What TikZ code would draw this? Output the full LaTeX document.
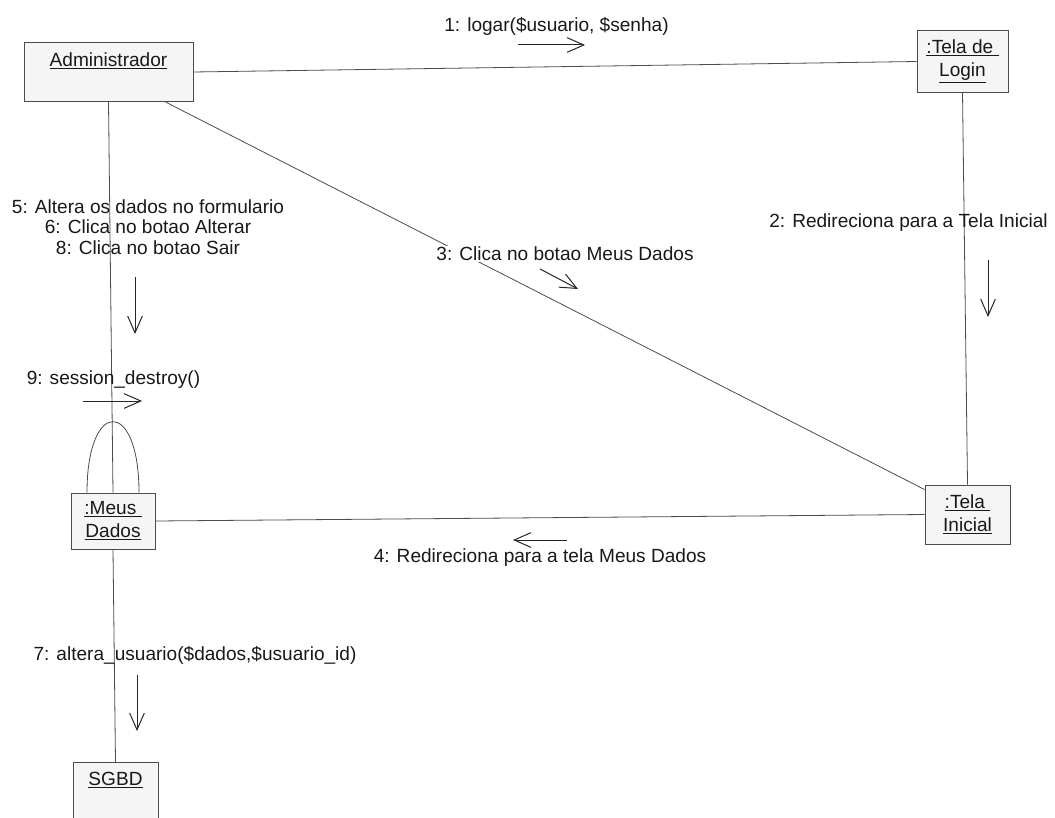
\documentclass[tikz,border=0pt]{standalone}
\usepackage{fontspec}
\setmainfont{Liberation Sans}
\usetikzlibrary{arrows.meta}
\begin{document}
\begin{tikzpicture}[x=0.75pt,y=-0.75pt,
  conn/.style={draw=black!70, line width=0.6pt},
  msg/.style={draw=black!85, line width=0.75pt, -{Straight Barb[length=12.5pt,width=11pt]}},
  obj/.style={draw=black!70, line width=0.75pt, fill=black!4, font=\fontsize{14.3}{17.25}\selectfont, text=black!90, align=center, inner sep=0pt},
  lbl/.style={font=\fontsize{14.3}{15.4}\selectfont, text=black!90, inner sep=0pt, align=center}]
\useasboundingbox (0,0) rectangle (1055,817);
\clip (0,0) rectangle (1055,817);
\fill[white] (0,0) rectangle (1055,817);

% objects
\node[obj, anchor=north, minimum width=126.75pt, text height=18pt, text depth=26.25pt] (adm) at (108.5,42) {\underline{Administrador}};
\node[obj, minimum width=68.25pt, minimum height=45.75pt] (login) at (962.5,61.5) {\underline{:Tela de\ }\\\underline{Login}};
\node[obj, minimum width=63.75pt, minimum height=44.25pt] (ini) at (967.5,514.5) {\underline{:Tela\ }\\\underline{Inicial}};
\node[obj, minimum width=63pt, minimum height=42pt] (md) at (113,521) {\underline{:Meus\ }\\\underline{Dados}};
\node[obj, anchor=north, minimum width=63.75pt, text height=17.25pt, text depth=40pt] (sgbd) at (115.5,762) {\underline{SGBD}};

% links
\draw[conn] (adm.east) -- (login.west);
\draw[conn] (adm.south) -- (md.north);
\draw[conn] ([xshift=-21pt]adm.south east) -- ([yshift=-3.75pt]ini.north west);
\draw[conn] (login.south) -- (ini.north);
\draw[conn] (md.east) -- (ini.west);
\draw[conn] (md.south) -- (sgbd.north);
\draw[conn] ([xshift=-19.5pt]md.north) .. controls (87,398) and (139,398) .. ([xshift=19.5pt]md.north);

% message arrows
\coordinate (a1s) at (518,45);  \coordinate (a1e) at (585,45);
\coordinate (a2s) at (988,260); \coordinate (a2e) at (988,317);
\coordinate (a3s) at (540,269); \coordinate (a3e) at (578,289);
\coordinate (a4s) at (567,540); \coordinate (a4e) at (513,540);
\coordinate (a5s) at (135,277); \coordinate (a5e) at (135,334);
\coordinate (a9s) at (83,401);  \coordinate (a9e) at (142,401);
\coordinate (a7s) at (137,675); \coordinate (a7e) at (137,731);
\draw[msg] (a1s) -- (a1e);
\draw[msg] (a2s) -- (a2e);
\draw[msg] (a3s) -- (a3e);
\draw[msg] (a4s) -- (a4e);
\draw[msg] (a5s) -- (a5e);
\draw[msg] (a9s) -- (a9e);
\draw[msg] (a7s) -- (a7e);

% labels
\node[lbl] (l1) at (556.5,26) {1: logar(\$usuario, \$senha)};
\node[lbl] (l2) at (908.5,223) {2: Redireciona para a Tela Inicial};
\node[lbl, fill=white, inner sep=1pt] (l3) at (565,254) {3: Clica no botao Meus Dados};
\node[lbl] (l4) at (540,558) {4: Redireciona para a tela Meus Dados};
\node[lbl] (l5) at (148,227) {5: Altera os dados no formulario\\6: Clica no botao Alterar\\8: Clica no botao Sair};
\node[lbl] (l9) at (113.5,380) {9: session\_destroy()};
\node[lbl] (l7) at (195,655) {7: altera\_usuario(\$dados,\$usuario\_id)};
\end{tikzpicture}
\end{document}
